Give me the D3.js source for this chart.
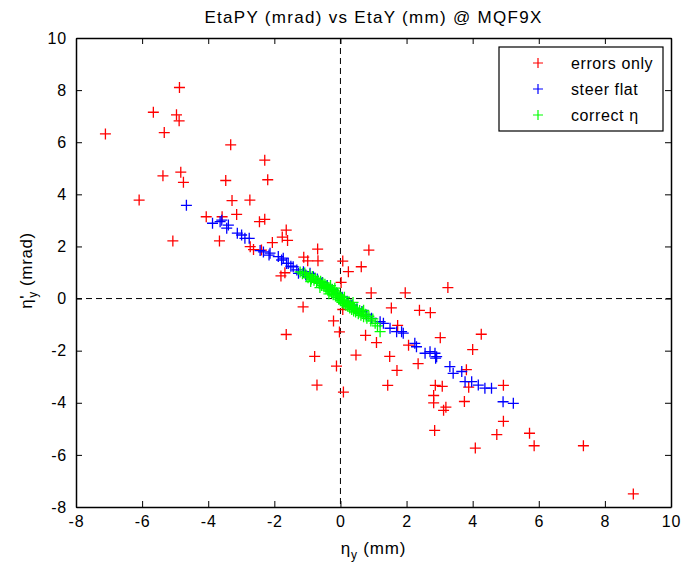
<!DOCTYPE html>
<html>
<head>
<meta charset="utf-8">
<script src="https://cdn.jsdelivr.net/npm/d3@7"></script>
<style>
  body { margin: 0; background: #fff; }
  svg { font-family: "Liberation Sans", Arial, Helvetica, sans-serif; }
</style>
</head>
<body>
<svg id="chart" width="685" height="573"></svg>
<script>
// values: [etaY (mm), etaPY (mrad)]
const errorsOnly = [
  [-4.87, 8.10], [-5.66, 7.15], [-4.96, 7.05], [-4.88, 6.82], [-7.11, 6.32], [-5.33, 6.37],
  [-3.32, 5.90], [-2.29, 5.31], [-2.20, 4.56], [-5.37, 4.71], [-4.83, 4.85], [-4.75, 4.46],
  [-3.47, 4.53], [-6.09, 3.78], [-3.28, 3.76], [-2.74, 3.78], [-4.06, 3.14], [-3.58, 3.14],
  [-3.14, 3.23], [-2.45, 2.95], [-2.29, 3.04], [-5.07, 2.21], [-3.66, 2.21], [-1.64, 2.63],
  [-1.76, 2.36], [-1.60, 2.23], [-2.06, 2.15], [-2.73, 1.99], [-2.63, 1.88], [-2.39, 1.86],
  [-0.69, 1.90], [-1.11, 1.59], [-0.99, 1.45], [-0.68, 1.45], [0.07, 1.44],
  [-1.80, 0.87], [-1.68, 0.99], [0.24, 1.03], [0.02, 0.62], [-1.13, -0.32], [-0.21, -0.86],
  [0.07, -0.42], [-0.03, -1.28], [-1.64, -1.38], [0.47, -2.17], [-0.78, -2.22], [-0.12, -2.59],
  [-0.71, -3.32], [0.09, -3.59],
  [0.86, 1.86], [0.63, 1.22], [0.93, 0.22], [1.96, 0.22], [3.25, 0.42], [1.54, -0.36],
  [2.39, -0.45], [2.72, -0.54], [0.76, -1.41], [1.09, -1.69], [3.02, -1.50], [4.26, -1.37],
  [1.73, -1.03], [1.49, -2.22], [2.06, -1.79], [2.35, -2.50], [1.71, -2.76], [4.00, -1.96],
  [3.81, -2.73], [1.43, -3.33], [2.87, -3.33], [3.08, -3.37], [3.88, -3.40], [2.82, -3.72],
  [2.82, -4.00], [3.19, -4.17], [3.12, -4.29], [3.75, -3.95], [4.93, -3.33], [4.93, -4.71],
  [4.73, -5.22], [2.85, -5.06], [4.08, -5.74], [5.72, -5.17], [5.86, -5.65], [7.35, -5.65],
  [8.86, -7.50]
]

const steerFlat = [
  [-4.66, 3.58], [-3.87, 2.89], [-3.64, 2.95], [-3.59, 3.01], [-3.44, 2.70], [-3.39, 2.82],
  [-3.12, 2.51], [-2.99, 2.44], [-2.89, 2.31], [-2.76, 2.31], [-2.43, 1.84], [-2.33, 1.79],
  [-2.13, 1.74], [-2.16, 1.67], [-1.88, 1.61], [-1.78, 1.48], [-1.73, 1.55], [-1.63, 1.35],
  [-1.58, 1.35], [-1.50, 1.24], [-1.43, 1.22], [-1.32, 1.10], [-1.27, 0.97], [-1.12, 1.03],
  [-0.92, 0.97], [-0.82, 0.84], [-1.05, 0.90], [-0.70, 0.75], [-0.55, 0.62], [-0.40, 0.50],
  [-0.25, 0.35], [-0.10, 0.20], [0.05, 0.05], [0.20, -0.10], [0.35, -0.25], [0.50, -0.40],
  [0.65, -0.50], [0.79, -0.63], [0.94, -0.76], [1.20, -0.89], [1.30, -0.95], [1.50, -1.14],
  [1.70, -1.27], [1.85, -1.27], [1.90, -1.33], [2.25, -1.72], [2.30, -1.85], [2.56, -2.10],
  [2.71, -2.04], [2.86, -2.10], [2.91, -2.23], [2.88, -2.29], [3.31, -2.61], [3.41, -2.87],
  [3.67, -2.80], [3.77, -3.19], [3.97, -3.19], [4.17, -3.32], [4.37, -3.44], [4.57, -3.44],
  [4.92, -3.96], [5.23, -4.02]
]

const correctEta = [
  [-1.22, 1.02], [-1.15, 0.95], [-1.08, 0.98], [-1.02, 0.88], [-0.98, 0.80], [-0.93, 0.92],
  [-0.88, 0.75], [-0.85, 0.85], [-0.80, 0.70], [-0.76, 0.78], [-0.72, 0.62], [-0.68, 0.70],
  [-0.64, 0.58], [-0.60, 0.66], [-0.57, 0.50], [-0.53, 0.60], [-0.50, 0.45], [-0.47, 0.55],
  [-0.44, 0.38], [-0.41, 0.48], [-0.38, 0.32], [-0.35, 0.42], [-0.32, 0.28], [-0.30, 0.50],
  [-0.27, 0.22], [-0.25, 0.36], [-0.22, 0.15], [-0.20, 0.30], [-0.17, 0.40], [-0.15, 0.10],
  [-0.12, 0.22], [-0.10, 0.05], [-0.07, 0.16], [-0.05, -0.02], [-0.02, 0.10], [0.00, -0.08],
  [0.03, 0.04], [0.05, -0.15], [0.08, -0.05], [0.10, -0.20], [0.13, -0.10], [0.16, -0.26],
  [0.19, -0.14], [0.22, -0.30], [0.25, -0.20], [0.28, -0.36], [0.31, -0.24], [0.34, -0.42],
  [0.37, -0.30], [0.40, -0.48], [0.43, -0.36], [0.46, -0.52], [0.50, -0.40], [0.54, -0.58],
  [0.58, -0.46], [0.62, -0.64], [0.66, -0.52], [0.70, -0.70], [0.75, -0.60], [0.80, -0.76],
  [0.86, -0.68], [0.92, -0.86], [0.98, -0.78], [1.05, -0.95], [1.12, -1.05], [1.20, -1.27],
  [-0.90, 0.65], [-0.62, 0.42], [-0.35, 0.18], [0.12, 0.05], [0.38, -0.15], [0.70, -0.45]
]

const xTicks = [-8, -6, -4, -2, 0, 2, 4, 6, 8, 10]
const yTicks = [-8, -6, -4, -2, 0, 2, 4, 6, 8, 10]
const seriesNames = ["errors only", "steer flat", "correct \u03b7"]
const seriesColors = ["#ff0000", "#0000ff", "#00ff00"]

const margin = { top: 38, right: 14, bottom: 66, left: 76 }
const width = 685
const height = 573

const svg = d3.select("#chart")

const x = d3.scaleLinear()
    .domain([-8, 10])
    .range([margin.left, width - margin.right])

const y = d3.scaleLinear()
    .domain([-8, 10])
    .range([height - margin.bottom, margin.top])

// zero lines
svg.append("line")
    .attr("x1", x(0)).attr("x2", x(0))
    .attr("y1", y(10)).attr("y2", y(-8))
    .attr("stroke", "#000").attr("stroke-dasharray", "6,4")
svg.append("line")
    .attr("x1", x(-8)).attr("x2", x(10))
    .attr("y1", y(0)).attr("y2", y(0))
    .attr("stroke", "#000").attr("stroke-dasharray", "6,4")

// plus markers
function plus(g, data, color, size) {
    g.selectAll("path")
        .data(data)
        .join("path")
        .attr("d", d => `M${x(d[0]) - size},${y(d[1])}h${2 * size}M${x(d[0])},${y(d[1]) - size}v${2 * size}`)
        .attr("stroke", color)
        .attr("stroke-width", 1.3)
        .attr("fill", "none")
}

const allSeries = [errorsOnly, steerFlat, correctEta]
allSeries.forEach((s, i) => plus(svg.append("g"), s, seriesColors[i], 5.5))

// axes, ticks pointing inward on every side
const fontSize = 16
const fmt = d => String(d)
svg.append("g")
    .attr("transform", `translate(0,${y(-8)})`)
    .call(d3.axisBottom(x).tickValues(xTicks).tickFormat(fmt).tickSizeInner(-6).tickSizeOuter(0).tickPadding(9))
svg.append("g")
    .attr("transform", `translate(0,${y(10)})`)
    .call(d3.axisTop(x).tickValues(xTicks).tickSizeInner(-6).tickSizeOuter(0).tickFormat(""))
svg.append("g")
    .attr("transform", `translate(${x(-8)},0)`)
    .call(d3.axisLeft(y).tickValues(yTicks).tickFormat(fmt).tickSizeInner(-6).tickSizeOuter(0).tickPadding(9))
svg.append("g")
    .attr("transform", `translate(${x(10)},0)`)
    .call(d3.axisRight(y).tickValues(yTicks).tickSizeInner(-6).tickSizeOuter(0).tickFormat(""))

svg.selectAll(".tick text")
    .attr("font-size", fontSize)
    .attr("letter-spacing", 0.8)
    .attr("font-family", "Liberation Sans, Arial, sans-serif")
    .attr("fill", "#000")
svg.selectAll(".domain").attr("stroke", "#000").attr("stroke-width", 1.5)
svg.selectAll(".tick line").attr("stroke", "#000")

// title
svg.append("text")
    .attr("x", (x(-8) + x(10)) / 2)
    .attr("y", 23)
    .attr("text-anchor", "middle")
    .attr("font-size", 17)
    .attr("letter-spacing", 1.3)
    .text("EtaPY (mrad) vs EtaY (mm) @ MQF9X")

// x label
const xl = svg.append("text")
    .attr("x", (x(-8) + x(10)) / 2)
    .attr("y", 554)
    .attr("text-anchor", "middle")
    .attr("font-size", 17)
    .attr("letter-spacing", 0.8)
xl.append("tspan").text("\u03b7")
xl.append("tspan").attr("font-size", 12).attr("dy", 5).text("y")
xl.append("tspan").attr("dy", -5).text(" (mm)")

// y label
const yl = svg.append("text")
    .attr("transform", `translate(32,${(y(-8) + y(10)) / 2 - 2}) rotate(-90)`)
    .attr("text-anchor", "middle")
    .attr("font-size", 17)
    .attr("letter-spacing", 0.6)
yl.append("tspan").text("\u03b7")
yl.append("tspan").text("'")
yl.append("tspan").attr("font-size", 12).attr("dy", 5).attr("dx", -3).text("y")
yl.append("tspan").attr("dy", -5).text(" (mrad)")

// legend
const legend = svg.append("g").attr("transform", "translate(499,47)")
legend.append("rect")
    .attr("width", 164).attr("height", 84)
    .attr("fill", "#fff").attr("stroke", "#000").attr("stroke-width", 1.2)

seriesNames.forEach(function (name, i) {
    const cy = 16 + 26 * i
    legend.append("path")
        .attr("d", `M${39 - 5},${cy}h10M39,${cy - 5}v10`)
        .attr("stroke", seriesColors[i]).attr("stroke-width", 1.2)
    legend.append("text")
        .attr("x", 72).attr("y", cy + 6)
        .attr("font-size", 16)
        .attr("letter-spacing", 0.6)
        .text(name)
})
</script>
</body>
</html>
